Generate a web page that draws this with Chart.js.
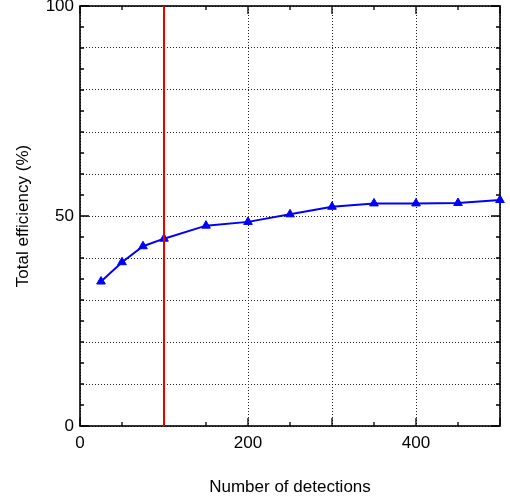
<!DOCTYPE html>
<html>
<head>
<meta charset="utf-8">
<script src="https://cdn.jsdelivr.net/npm/chart.js@4/dist/chart.umd.min.js"></script>
<style>
html,body{margin:0;padding:0;background:#fff;}
canvas{display:block;}
</style>
</head>
<body>
<canvas id="c" width="510" height="501"></canvas>
<script>
// ---- data ----
const detections = [25, 50, 75, 100, 150, 200, 250, 300, 350, 400, 450, 500];
const efficiency = [34.4, 39.0, 42.8, 44.6, 47.7, 48.6, 50.4, 52.2, 53.0, 53.0, 53.1, 53.8];
const markerX = [100, 100];
const markerY = [0, 100];
const xTickLabels = [0, 200, 400];
const yTickLabels = [0, 50, 100];
const xTitle = 'Number of detections';
const yTitle = 'Total efficiency (%)';

const FONT = 'Liberation Sans, Arial, Helvetica, sans-serif';

const frameTicks = {
  id: 'frameTicks',
  beforeDatasetsDraw(chart) {
    const {ctx, chartArea: a, scales: {x, y}} = chart;
    ctx.save();
    ctx.strokeStyle = '#000';
    ctx.lineWidth = 1.3;
    for (let v = x.min; v <= x.max; v += 50) {
      const px = x.getPixelForValue(v);
      const len = (v % 100 === 0) ? 8 : 4;
      ctx.beginPath();
      ctx.moveTo(px, a.bottom); ctx.lineTo(px, a.bottom - len);
      ctx.moveTo(px, a.top); ctx.lineTo(px, a.top + len);
      ctx.stroke();
    }
    for (let v = y.min; v <= y.max; v += 5) {
      const py = y.getPixelForValue(v);
      const len = (v % 50 === 0) ? 9 : 4;
      ctx.beginPath();
      ctx.moveTo(a.left, py); ctx.lineTo(a.left + len, py);
      ctx.moveTo(a.right, py); ctx.lineTo(a.right - len, py);
      ctx.stroke();
    }
    ctx.lineWidth = 1.6;
    ctx.strokeRect(a.left, a.top, a.right - a.left, a.bottom - a.top);
    ctx.restore();
  }
};

new Chart(document.getElementById('c'), {
  type: 'line',
  data: {
    datasets: [
      {
        data: markerX.map((v, i) => ({x: v, y: markerY[i]})),
        borderColor: 'rgb(235,0,0)',
        borderWidth: 2,
        pointRadius: 0,
        fill: false
      },
      {
        data: detections.map((v, i) => ({x: v, y: efficiency[i]})),
        borderColor: 'rgb(0,0,255)',
        backgroundColor: 'rgb(0,0,255)',
        borderWidth: 2,
        pointStyle: 'triangle',
        pointRadius: 5,
        pointBorderWidth: 1,
        fill: false,
        clip: false
      }
    ]
  },
  options: {
    responsive: false,
    animation: false,
    layout: {padding: {top: 6, right: 10, left: 0, bottom: 0}},
    plugins: {legend: {display: false}, tooltip: {enabled: false}},
    scales: {
      x: {
        type: 'linear', min: 0, max: 500,
        ticks: {
          stepSize: 100, autoSkip: false, maxRotation: 0,
          callback: v => xTickLabels.includes(v) ? String(v) : '',
          color: '#000', font: {size: 17, family: FONT}, padding: 7
        },
        grid: {color: '#222', lineWidth: 1, drawTicks: false},
        border: {display: false, dash: [1, 2]},
        title: {display: true, text: xTitle, color: '#000', font: {size: 17, family: FONT}, padding: {top: 3, bottom: 3}},
        afterFit: s => { s.height = 75; s.paddingLeft = 0; s.paddingRight = 0; }
      },
      y: {
        type: 'linear', min: 0, max: 100,
        ticks: {
          stepSize: 10, autoSkip: false,
          callback: v => yTickLabels.includes(v) ? String(v) : '',
          color: '#000', font: {size: 17, family: FONT}, padding: 6
        },
        grid: {color: '#222', lineWidth: 1, drawTicks: false},
        border: {display: false, dash: [1, 2]},
        title: {display: true, text: yTitle, color: '#000', font: {size: 17, family: FONT}, padding: {top: 13, bottom: 13}},
        afterFit: s => { s.width = 80; s.paddingTop = 0; s.paddingBottom = 0; }
      }
    }
  },
  plugins: [frameTicks]
});
</script>
</body>
</html>
